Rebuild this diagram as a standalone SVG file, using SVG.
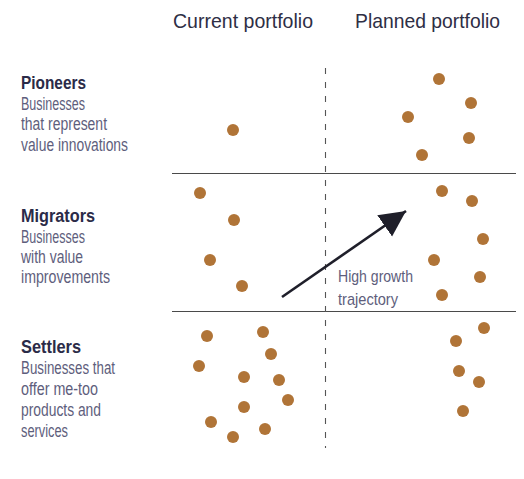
<svg xmlns="http://www.w3.org/2000/svg" width="524" height="479" viewBox="0 0 524 479">
<defs>
<style>
.hdr{font-family:"Liberation Sans",Arial,sans-serif;font-size:21px;fill:#2e2e45}
.ttl{font-family:"Liberation Sans",Arial,sans-serif;font-size:18px;font-weight:bold;fill:#2b2b48}
.dsc{font-family:"Liberation Sans",Arial,sans-serif;font-size:17.5px;fill:#5e5e7c}
.lbl{font-family:"Liberation Sans",Arial,sans-serif;font-size:17px;fill:#5e5e7c}
.rule{stroke:#4a4a4a;stroke-width:1.2}
.dash{stroke:#555;stroke-width:1.1;stroke-dasharray:6 8}
.dot{fill:#b07437}
</style>
<marker id="ah" markerUnits="userSpaceOnUse" markerWidth="30" markerHeight="30" refX="26" refY="13" orient="auto">
<path d="M0,0 L26,13 L0,26 Z" fill="#1f1f2a"/>
</marker>
</defs>
<rect width="524" height="479" fill="#ffffff"/>
<g id="headers">
<text class="hdr" x="173" y="28" textLength="140" lengthAdjust="spacingAndGlyphs">Current portfolio</text>
<text class="hdr" x="355" y="28" textLength="145" lengthAdjust="spacingAndGlyphs">Planned portfolio</text>
</g>
<g id="grid">
<line class="rule" x1="172" y1="173.5" x2="516" y2="173.5"/>
<line class="rule" x1="172" y1="311.5" x2="516" y2="311.5"/>
<line class="dash" x1="325.5" y1="68" x2="325.5" y2="448"/>
</g>
<g id="pioneers">
<text class="ttl" x="21" y="89" textLength="65" lengthAdjust="spacingAndGlyphs">Pioneers</text>
<text class="dsc" x="21" y="110" textLength="64" lengthAdjust="spacingAndGlyphs">Businesses</text>
<text class="dsc" x="21" y="130" textLength="86" lengthAdjust="spacingAndGlyphs">that represent</text>
<text class="dsc" x="21" y="151" textLength="107" lengthAdjust="spacingAndGlyphs">value innovations</text>
<circle class="dot" cx="233" cy="130" r="6"/>
<circle class="dot" cx="439" cy="79" r="6"/>
<circle class="dot" cx="471" cy="103" r="6"/>
<circle class="dot" cx="408" cy="117" r="6"/>
<circle class="dot" cx="469" cy="138" r="6"/>
<circle class="dot" cx="422" cy="155" r="6"/>
</g>
<g id="migrators">
<text class="ttl" x="21" y="222" textLength="74" lengthAdjust="spacingAndGlyphs">Migrators</text>
<text class="dsc" x="21" y="243" textLength="64" lengthAdjust="spacingAndGlyphs">Businesses</text>
<text class="dsc" x="21" y="263" textLength="62" lengthAdjust="spacingAndGlyphs">with value</text>
<text class="dsc" x="21" y="283" textLength="89" lengthAdjust="spacingAndGlyphs">improvements</text>
<circle class="dot" cx="200" cy="193" r="6"/>
<circle class="dot" cx="234" cy="220" r="6"/>
<circle class="dot" cx="210" cy="260" r="6"/>
<circle class="dot" cx="242" cy="286" r="6"/>
<circle class="dot" cx="442" cy="191" r="6"/>
<circle class="dot" cx="472" cy="201" r="6"/>
<circle class="dot" cx="483" cy="239" r="6"/>
<circle class="dot" cx="434" cy="260" r="6"/>
<circle class="dot" cx="480" cy="277" r="6"/>
<circle class="dot" cx="442" cy="295" r="6"/>
</g>
<g id="settlers">
<text class="ttl" x="21" y="353" textLength="60" lengthAdjust="spacingAndGlyphs">Settlers</text>
<text class="dsc" x="21" y="374" textLength="94" lengthAdjust="spacingAndGlyphs">Businesses that</text>
<text class="dsc" x="21" y="395" textLength="77" lengthAdjust="spacingAndGlyphs">offer me-too</text>
<text class="dsc" x="21" y="416" textLength="80" lengthAdjust="spacingAndGlyphs">products and</text>
<text class="dsc" x="21" y="437" textLength="47" lengthAdjust="spacingAndGlyphs">services</text>
<circle class="dot" cx="207" cy="336" r="6"/>
<circle class="dot" cx="263" cy="332" r="6"/>
<circle class="dot" cx="271" cy="354" r="6"/>
<circle class="dot" cx="199" cy="366" r="6"/>
<circle class="dot" cx="244" cy="377" r="6"/>
<circle class="dot" cx="279" cy="380" r="6"/>
<circle class="dot" cx="288" cy="400" r="6"/>
<circle class="dot" cx="244" cy="407" r="6"/>
<circle class="dot" cx="211" cy="422" r="6"/>
<circle class="dot" cx="233" cy="437" r="6"/>
<circle class="dot" cx="265" cy="429" r="6"/>
<circle class="dot" cx="484" cy="328" r="6"/>
<circle class="dot" cx="456" cy="341" r="6"/>
<circle class="dot" cx="459" cy="371" r="6"/>
<circle class="dot" cx="479" cy="382" r="6"/>
<circle class="dot" cx="463" cy="411" r="6"/>
</g>
<g id="connectors">
<line x1="282" y1="297" x2="406" y2="211" stroke="#1f1f2a" stroke-width="2.6" marker-end="url(#ah)"/>
<text class="lbl" x="338" y="282" textLength="75" lengthAdjust="spacingAndGlyphs">High growth</text>
<text class="lbl" x="338" y="305" textLength="60" lengthAdjust="spacingAndGlyphs">trajectory</text>
</g>
</svg>
